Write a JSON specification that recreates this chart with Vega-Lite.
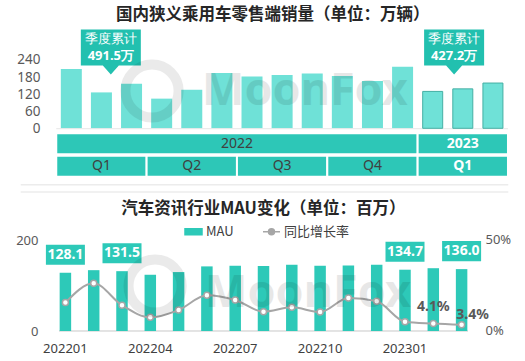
{
  "$schema": "https://vega.github.io/schema/vega-lite/v6.json",
  "width": 525,
  "height": 361,
  "padding": 0,
  "autosize": {"type": "none"},
  "background": "#ffffff",
  "config": {"view": {"stroke": null}, "font": "Noto Sans CJK SC"},
  "datasets": {
    "sales": [
      {"n": 1, "year": "2022", "sales": 208.6},
      {"n": 2, "year": "2022", "sales": 126.1},
      {"n": 3, "year": "2022", "sales": 156.8},
      {"n": 4, "year": "2022", "sales": 104.2},
      {"n": 5, "year": "2022", "sales": 135.4},
      {"n": 6, "year": "2022", "sales": 194.3},
      {"n": 7, "year": "2022", "sales": 181.6},
      {"n": 8, "year": "2022", "sales": 187.4},
      {"n": 9, "year": "2022", "sales": 192.2},
      {"n": 10, "year": "2022", "sales": 183.9},
      {"n": 11, "year": "2022", "sales": 165.8},
      {"n": 12, "year": "2022", "sales": 216.1},
      {"n": 13, "year": "2023", "sales": 129.6},
      {"n": 14, "year": "2023", "sales": 138.6},
      {"n": 15, "year": "2023", "sales": 159.0}
    ],
    "years": [
      {"label": "2022", "year": "2022", "from": 0.5, "to": 12.5},
      {"label": "2023", "year": "2023", "from": 12.5, "to": 15.5}
    ],
    "quarters": [
      {"label": "Q1", "year": "2022", "from": 0.5, "to": 3.5},
      {"label": "Q2", "year": "2022", "from": 3.5, "to": 6.5},
      {"label": "Q3", "year": "2022", "from": 6.5, "to": 9.5},
      {"label": "Q4", "year": "2022", "from": 9.5, "to": 12.5},
      {"label": "Q1", "year": "2023", "from": 12.5, "to": 15.5}
    ],
    "callouts": [
      {"year": "2022", "quarter": "Q1", "n": 2, "label": "季度累计", "total": "491.5万"},
      {"year": "2023", "quarter": "Q1", "n": 14, "label": "季度累计", "total": "427.2万"}
    ],
    "mau": [
      {"month": "202201", "mau": 128.1, "rate": 0.156},
      {"month": "202202", "mau": 133.7, "rate": 0.262},
      {"month": "202203", "mau": 131.5, "rate": 0.141},
      {"month": "202204", "mau": 123.6, "rate": 0.075},
      {"month": "202205", "mau": 129.5, "rate": 0.115},
      {"month": "202206", "mau": 142.0, "rate": 0.196},
      {"month": "202207", "mau": 143.4, "rate": 0.170},
      {"month": "202208", "mau": 142.7, "rate": 0.106},
      {"month": "202209", "mau": 145.6, "rate": 0.130},
      {"month": "202210", "mau": 143.4, "rate": 0.104},
      {"month": "202211", "mau": 144.2, "rate": 0.181},
      {"month": "202212", "mau": 145.6, "rate": 0.163},
      {"month": "202301", "mau": 134.7, "rate": 0.051},
      {"month": "202302", "mau": 138.0, "rate": 0.041},
      {"month": "202303", "mau": 136.0, "rate": 0.034}
    ]
  },
  "layer": [
    {
      "data": {"name": "sales"},
      "transform": [{"filter": "datum.year == '2022'"}],
      "mark": {"type": "bar", "width": 21, "color": "#6FE1D7"},
      "encoding": {
        "x": {"field": "n", "type": "quantitative", "scale": {"domain": [-1.202, 15.899], "nice": false, "zero": false}, "axis": null},
        "y": {"field": "sales", "type": "quantitative", "scale": {"domain": [-817.7, 450.8], "nice": false, "zero": false},
          "axis": {"orient": "left", "offset": -40, "values": [0, 60, 120, 180, 240], "grid": false, "domain": false, "ticks": false, "labelPadding": 0, "labelFontSize": 13.5, "labelColor": "#595959", "labelFont": "Noto Sans", "title": null}},
        "y2": {"datum": 0}
      }
    },
    {
      "layer": [
        {
          "data": {"values": [{}]},
          "mark": {"type": "rule", "color": "#ECECEC", "strokeWidth": 1.5},
          "encoding": {
            "x": {"datum": -0.68, "type": "quantitative", "scale": {"domain": [-1.202, 15.899], "nice": false, "zero": false}, "axis": null},
            "x2": {"datum": 15.51},
            "y": {"datum": -198.2, "type": "quantitative", "scale": {"domain": [-817.7, 450.8], "nice": false, "zero": false}, "axis": null}
          }
        },
        {
          "data": {"values": [{}]},
          "mark": {"type": "rule", "color": "#ECECEC", "strokeWidth": 1.5},
          "encoding": {
            "x": {"datum": -0.68, "type": "quantitative", "scale": {"domain": [-1.202, 15.899], "nice": false, "zero": false}, "axis": null},
            "x2": {"datum": 15.51},
            "y": {"datum": -223.8, "type": "quantitative", "scale": {"domain": [-817.7, 450.8], "nice": false, "zero": false}, "axis": null}
          }
        },
        {
          "data": {"values": [{}]},
          "mark": {"type": "rule", "color": "#E6E6E6", "strokeWidth": 1},
          "encoding": {
            "x": {"datum": 0.5, "type": "quantitative", "scale": {"domain": [-1.202, 15.899], "nice": false, "zero": false}, "axis": null},
            "x2": {"datum": 15.5},
            "y": {"datum": -1.5, "type": "quantitative", "scale": {"domain": [-817.7, 450.8], "nice": false, "zero": false}, "axis": null}
          }
        },
        {
          "data": {"name": "sales"},
          "transform": [{"filter": "datum.year == '2023'"}],
          "mark": {"type": "bar", "width": 20, "color": "#6FE1D7", "stroke": "#45AFA4", "strokeWidth": 1},
          "encoding": {
            "x": {"field": "n", "type": "quantitative", "scale": {"domain": [-1.202, 15.899], "nice": false, "zero": false}, "axis": null},
            "y": {"field": "sales", "type": "quantitative", "scale": {"domain": [-817.7, 450.8], "nice": false, "zero": false}, "axis": null},
            "y2": {"datum": 0}
          }
        },
        {
          "data": {"name": "years"},
          "mark": {"type": "rect", "fill": "#2DC7B7", "stroke": "#ffffff", "strokeWidth": 2},
          "encoding": {
            "x": {"field": "from", "type": "quantitative", "scale": {"domain": [-1.202, 15.899], "nice": false, "zero": false}, "axis": null},
            "x2": {"field": "to"},
            "y": {"datum": -17.57, "type": "quantitative", "scale": {"domain": [-817.7, 450.8], "nice": false, "zero": false}, "axis": null},
            "y2": {"datum": -91.36}
          }
        },
        {
          "data": {"name": "quarters"},
          "mark": {"type": "rect", "fill": "#2DC7B7", "stroke": "#ffffff", "strokeWidth": 2},
          "encoding": {
            "x": {"field": "from", "type": "quantitative", "scale": {"domain": [-1.202, 15.899], "nice": false, "zero": false}, "axis": null},
            "x2": {"field": "to"},
            "y": {"datum": -96.28, "type": "quantitative", "scale": {"domain": [-817.7, 450.8], "nice": false, "zero": false}, "axis": null},
            "y2": {"datum": -170.07}
          }
        },
        {
          "data": {"name": "years"},
          "transform": [{"filter": "datum.year == '2022'"}, {"fold": ["from", "to"], "as": ["k", "v"]}],
          "mark": {"type": "text", "fontSize": 14, "color": "#404040", "font": "Noto Sans", "baseline": "middle"},
          "encoding": {
            "x": {"aggregate": "mean", "field": "v", "type": "quantitative", "scale": {"domain": [-1.202, 15.899], "nice": false, "zero": false}, "axis": null},
            "y": {"datum": -55.2, "type": "quantitative", "scale": {"domain": [-817.7, 450.8], "nice": false, "zero": false}, "axis": null},
            "text": {"field": "label"}
          }
        },
        {
          "data": {"name": "years"},
          "transform": [{"filter": "datum.year == '2023'"}, {"fold": ["from", "to"], "as": ["k", "v"]}],
          "mark": {"type": "text", "fontSize": 14, "fontWeight": "bold", "color": "#ffffff", "font": "Noto Sans", "baseline": "middle"},
          "encoding": {
            "x": {"aggregate": "mean", "field": "v", "type": "quantitative", "scale": {"domain": [-1.202, 15.899], "nice": false, "zero": false}, "axis": null},
            "y": {"datum": -55.2, "type": "quantitative", "scale": {"domain": [-817.7, 450.8], "nice": false, "zero": false}, "axis": null},
            "text": {"field": "label"}
          }
        },
        {
          "data": {"name": "quarters"},
          "transform": [{"filter": "datum.year == '2022'"}, {"fold": ["from", "to"], "as": ["k", "v"]}],
          "mark": {"type": "text", "fontSize": 14, "color": "#404040", "font": "Noto Sans", "baseline": "middle"},
          "encoding": {
            "x": {"aggregate": "mean", "field": "v", "type": "quantitative", "scale": {"domain": [-1.202, 15.899], "nice": false, "zero": false}, "axis": null},
            "y": {"datum": -131.4, "type": "quantitative", "scale": {"domain": [-817.7, 450.8], "nice": false, "zero": false}, "axis": null},
            "detail": {"field": "year"},
            "text": {"field": "label"}
          }
        },
        {
          "data": {"name": "quarters"},
          "transform": [{"filter": "datum.year == '2023'"}, {"fold": ["from", "to"], "as": ["k", "v"]}],
          "mark": {"type": "text", "fontSize": 14, "fontWeight": "bold", "color": "#ffffff", "font": "Noto Sans", "baseline": "middle"},
          "encoding": {
            "x": {"aggregate": "mean", "field": "v", "type": "quantitative", "scale": {"domain": [-1.202, 15.899], "nice": false, "zero": false}, "axis": null},
            "y": {"datum": -131.4, "type": "quantitative", "scale": {"domain": [-817.7, 450.8], "nice": false, "zero": false}, "axis": null},
            "detail": {"field": "year"},
            "text": {"field": "label"}
          }
        },
        {
          "data": {"name": "callouts"},
          "transform": [{"filter": "datum.year == '2022'"}],
          "layer": [
            {"mark": {"type": "point", "shape": "M-1,-0.6H1V0.6H0.267L0,0.9L-0.267,0.6H-1Z", "size": 3600, "filled": true, "fill": "#22C0AF", "opacity": 1, "strokeWidth": 0, "xOffset": 9.4}},
            {"mark": {"type": "text", "font": "Noto Sans", "fontSize": 12.5, "color": "#ffffff", "baseline": "middle", "xOffset": 9.4, "yOffset": -8.5}, "encoding": {"text": {"field": "label"}}},
            {"mark": {"type": "text", "font": "Noto Sans", "fontSize": 13, "fontWeight": "bold", "color": "#ffffff", "baseline": "middle", "xOffset": 9.4, "yOffset": 8.5}, "encoding": {"text": {"field": "total"}}}
          ],
          "encoding": {
            "x": {"field": "n", "type": "quantitative", "scale": {"domain": [-1.202, 15.899], "nice": false, "zero": false}, "axis": null},
            "y": {"datum": 283.9, "type": "quantitative", "scale": {"domain": [-817.7, 450.8], "nice": false, "zero": false}, "axis": null}
          }
        },
        {
          "data": {"name": "callouts"},
          "transform": [{"filter": "datum.year == '2023'"}],
          "layer": [
            {"mark": {"type": "point", "shape": "M-1,-0.6H1V0.6H0.267L0,0.9L-0.267,0.6H-1Z", "size": 3600, "filled": true, "fill": "#22C0AF", "opacity": 1, "strokeWidth": 0, "xOffset": -8.7}},
            {"mark": {"type": "text", "font": "Noto Sans", "fontSize": 12.5, "color": "#ffffff", "baseline": "middle", "xOffset": -8.7, "yOffset": -8.5}, "encoding": {"text": {"field": "label"}}},
            {"mark": {"type": "text", "font": "Noto Sans", "fontSize": 13, "fontWeight": "bold", "color": "#ffffff", "baseline": "middle", "xOffset": -8.7, "yOffset": 8.5}, "encoding": {"text": {"field": "total"}}}
          ],
          "encoding": {
            "x": {"field": "n", "type": "quantitative", "scale": {"domain": [-1.202, 15.899], "nice": false, "zero": false}, "axis": null},
            "y": {"datum": 283.9, "type": "quantitative", "scale": {"domain": [-817.7, 450.8], "nice": false, "zero": false}, "axis": null}
          }
        },
        {
          "data": {"values": [{"title": "国内狭义乘用车零售端销量（单位：万辆）"}]},
          "mark": {"type": "text", "fontSize": 16.5, "fontWeight": "bold", "color": "#262626", "baseline": "middle"},
          "encoding": {
            "x": {"datum": 7.69, "type": "quantitative", "scale": {"domain": [-1.202, 15.899], "nice": false, "zero": false}, "axis": null},
            "y": {"datum": 398.1, "type": "quantitative", "scale": {"domain": [-817.7, 450.8], "nice": false, "zero": false}, "axis": null},
            "text": {"field": "title"}
          }
        },
        {
          "data": {"values": [{"title": "汽车资讯行业MAU变化（单位：百万）"}]},
          "mark": {"type": "text", "fontSize": 16.5, "fontWeight": "bold", "color": "#262626", "baseline": "middle"},
          "encoding": {
            "x": {"datum": 7.375, "type": "quantitative", "scale": {"domain": [-1.202, 15.899], "nice": false, "zero": false}, "axis": null},
            "y": {"datum": -283.6, "type": "quantitative", "scale": {"domain": [-817.7, 450.8], "nice": false, "zero": false}, "axis": null},
            "text": {"field": "title"}
          }
        }
      ]
    },
    {
      "data": {"name": "mau"},
      "encoding": {
        "x": {"field": "month", "type": "ordinal", "scale": {"type": "band", "range": [51.25, 475.75], "paddingInner": 0.594, "paddingOuter": 0.297},
          "axis": {"orient": "bottom", "offset": -21, "values": ["202201", "202204", "202207", "202210", "202301"], "labelAngle": 0, "grid": false, "domain": false, "ticks": false, "labelPadding": 2, "labelFontSize": 13, "labelColor": "#404040", "labelFont": "Noto Sans", "title": null}}
      },
      "layer": [
        {
          "encoding": {
            "y": {"field": "mau", "type": "quantitative", "scale": {"domain": [-65.93, 727.47], "nice": false, "zero": false},
              "axis": {"orient": "left", "offset": -38, "values": [0, 200], "grid": false, "domain": false, "ticks": false, "labelPadding": 0, "labelFontSize": 13, "labelColor": "#595959", "labelFont": "Noto Sans", "title": null}}
          },
          "layer": [
            {
              "mark": {"type": "rule", "color": "#E3E3E3", "strokeWidth": 1},
              "encoding": {
                "x": {"datum": "202201", "bandPosition": 0},
                "x2": {"datum": "202303", "bandPosition": 1},
                "y": {"datum": 0, "type": "quantitative"}
              }
            },
            {
              "mark": {"type": "bar"},
              "encoding": {
                "y2": {"datum": 0},
                "color": {"datum": "MAU", "type": "nominal",
                  "scale": {"domain": ["MAU", "同比增长率"], "range": ["#2DC9B8", "#A6A6A6"]},
                  "legend": {
                    "orient": "none", "legendX": 184, "legendY": 222, "direction": "horizontal", "title": null,
                    "labelFontSize": 13, "labelColor": "#404040", "labelFont": "Noto Sans CJK SC",
                    "symbolSize": 289, "labelOffset": 3, "columnPadding": 26,
                    "encode": {"symbols": {"update": {
                      "shape": {"signal": "datum.value === 'MAU' ? 'M-1,-0.36H1V0.36H-1Z' : 'M-1,0H-0.35M0.35,0H1M0.35,0A0.35,0.35,0,1,1,-0.35,0A0.35,0.35,0,1,1,0.35,0'"},
                      "fill": {"signal": "datum.value === 'MAU' ? '#2DC9B8' : '#ffffff'"},
                      "stroke": {"signal": "datum.value === 'MAU' ? 'transparent' : '#A6A6A6'"},
                      "strokeWidth": {"value": 1.5},
                      "opacity": {"value": 1},
                      "fillOpacity": {"value": 1},
                      "strokeOpacity": {"value": 1}
                    }}}
                  }}
              }
            },
            {
              "transform": [{"filter": {"field": "month", "oneOf": ["202201", "202203", "202301", "202303"]}}],
              "mark": {"type": "point", "shape": "M-1,-0.513H1V0.513H-1Z", "size": 1521, "filled": true, "fill": "#2DC9B8", "opacity": 1, "strokeWidth": 0, "yOffset": -18}
            },
            {
              "transform": [{"filter": {"field": "month", "oneOf": ["202201", "202203", "202301", "202303"]}}],
              "mark": {"type": "text", "fontSize": 14, "fontWeight": "bold", "color": "#ffffff", "font": "Noto Sans", "baseline": "middle", "yOffset": -18},
              "encoding": {"text": {"field": "mau", "format": ".1f"}}
            }
          ]
        },
        {
          "encoding": {
            "y": {"field": "rate", "type": "quantitative", "scale": {"domain": [-0.16484, 1.81868], "nice": false, "zero": false},
              "axis": {"orient": "right", "offset": -40, "values": [0, 0.5], "format": ".0%", "grid": false, "domain": false, "ticks": false, "labelPadding": 0, "labelFontSize": 13, "labelColor": "#595959", "labelFont": "Noto Sans", "title": null}}
          },
          "layer": [
            {
              "mark": {"type": "line", "interpolate": "monotone", "strokeWidth": 2},
              "encoding": {"color": {"datum": "同比增长率", "type": "nominal"}}
            },
            {
              "mark": {"type": "point", "filled": true, "fill": "#ffffff", "stroke": "#A6A6A6", "strokeWidth": 1.5, "size": 36, "opacity": 1}
            },
            {
              "transform": [{"filter": {"field": "month", "equal": "202302"}}],
              "mark": {"type": "text", "fontSize": 14, "fontWeight": "bold", "color": "#595959", "font": "Noto Sans", "baseline": "middle", "yOffset": -17},
              "encoding": {"text": {"field": "rate", "format": ".1%"}}
            },
            {
              "transform": [{"filter": {"field": "month", "equal": "202303"}}],
              "mark": {"type": "text", "fontSize": 14, "fontWeight": "bold", "color": "#595959", "font": "Noto Sans", "baseline": "middle", "xOffset": 11, "yOffset": -10},
              "encoding": {"text": {"field": "rate", "format": ".1%"}}
            }
          ]
        }
      ],
      "resolve": {"scale": {"y": "independent"}, "axis": {"y": "independent"}}
    },
    {
      "data": {"values": [{"mark": "MoonFox"}]},
      "layer": [
        {
          "mark": {"type": "text", "font": "Noto Sans", "fontSize": 45, "fontWeight": "bold", "color": "#000000", "opacity": 0.09, "baseline": "middle"},
          "encoding": {
            "x": {"datum": 8.73, "type": "quantitative", "scale": {"domain": [-1.202, 15.899], "nice": false, "zero": false}, "axis": null},
            "y": {"datum": 131.1, "type": "quantitative", "scale": {"domain": [-817.7, 450.8], "nice": false, "zero": false}, "axis": null},
            "text": {"field": "mark"}
          }
        },
        {
          "mark": {"type": "text", "font": "Noto Sans", "fontSize": 45, "fontWeight": "bold", "color": "#000000", "opacity": 0.09, "baseline": "middle"},
          "encoding": {
            "x": {"datum": 8.83, "type": "quantitative", "scale": {"domain": [-1.202, 15.899], "nice": false, "zero": false}, "axis": null},
            "y": {"datum": -580, "type": "quantitative", "scale": {"domain": [-817.7, 450.8], "nice": false, "zero": false}, "axis": null},
            "text": {"field": "mark"}
          }
        },
        {
          "mark": {"type": "point", "shape": "circle", "size": 2827, "filled": false, "stroke": "#000000", "strokeWidth": 10, "opacity": 0.08},
          "encoding": {
            "x": {"datum": 3.75, "type": "quantitative", "scale": {"domain": [-1.202, 15.899], "nice": false, "zero": false}, "axis": null},
            "y": {"datum": 131.1, "type": "quantitative", "scale": {"domain": [-817.7, 450.8], "nice": false, "zero": false}, "axis": null}
          }
        },
        {
          "mark": {"type": "point", "shape": "circle", "size": 2827, "filled": false, "stroke": "#000000", "strokeWidth": 10, "opacity": 0.08},
          "encoding": {
            "x": {"datum": 3.85, "type": "quantitative", "scale": {"domain": [-1.202, 15.899], "nice": false, "zero": false}, "axis": null},
            "y": {"datum": -554.2, "type": "quantitative", "scale": {"domain": [-817.7, 450.8], "nice": false, "zero": false}, "axis": null}
          }
        }
      ]
    }
  ],
  "resolve": {"scale": {"x": "independent", "y": "independent"}, "axis": {"x": "independent", "y": "independent"}}
}
